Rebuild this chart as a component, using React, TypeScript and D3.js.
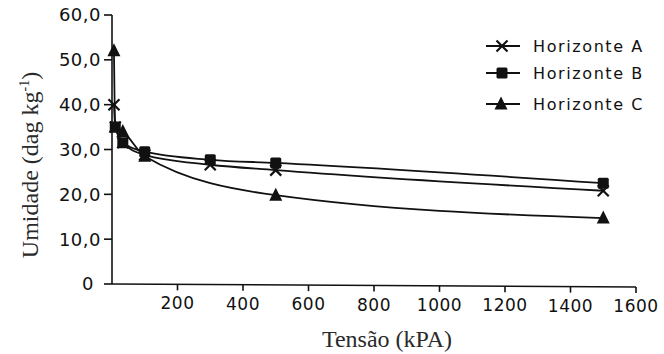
import React from "react";
import * as d3 from "d3";

const tensions = [6, 10, 33, 100, 300, 500, 1500];
const horizonteA = [40, 35, 31.5, 28.8, 26.6, 25.4, 20.8];
const tensionsB = [10, 33, 100, 300, 500, 1500];
const horizonteB = [35, 31.5, 29.5, 27.7, 27, 22.5];
const tensionsC = [6, 10, 33, 100, 500, 1500];
const horizonteC = [52, 35, 34, 28.5, 19.8, 14.7];

const xTicks = [200, 400, 600, 800, 1000, 1200, 1400, 1600];
const yTicks = [0, 10, 20, 30, 40, 50, 60];
const legendLabels = ["Horizonte A", "Horizonte B", "Horizonte C"];

const W = 664;
const H = 354;

export default function App() {
  const x = d3.scaleLinear().domain([0, 1600]).range([112, 636]);
  const y = d3.scaleLinear().domain([0, 60]).range([284, 15]);
  const line = d3
    .line<[number, number]>()
    .x((d) => x(d[0]))
    .y((d) => y(d[1]))
    .curve(d3.curveMonotoneX);

  const sA: [number, number][] = tensions.map((t, i) => [t, horizonteA[i]]);
  const sB: [number, number][] = tensionsB.map((t, i) => [t, horizonteB[i]]);
  const sC: [number, number][] = tensionsC.map((t, i) => [t, horizonteC[i]]);

  const ink = "#111";
  const tickFont = "'DejaVu Sans', sans-serif";

  const cross = (cx: number, cy: number, k: string) => (
    <g key={k} stroke={ink} strokeWidth={2.2}>
      <line x1={cx - 5.5} y1={cy - 5.5} x2={cx + 5.5} y2={cy + 5.5} />
      <line x1={cx - 5.5} y1={cy + 5.5} x2={cx + 5.5} y2={cy - 5.5} />
    </g>
  );
  const square = (cx: number, cy: number, k: string) => (
    <rect key={k} x={cx - 5.5} y={cy - 5.5} width={11} height={11} fill={ink} rx={1.5} />
  );
  const tri = (cx: number, cy: number, k: string) => (
    <path
      key={k}
      d={`M${cx},${cy - 7.5} L${cx + 6.5},${cy + 5.5} L${cx - 6.5},${cy + 5.5} Z`}
      fill={ink}
    />
  );

  const legendY = [46, 73, 104];

  return (
    <svg width={W} height={H} style={{ position: "absolute", left: 0, top: 0, background: "#fff" }}>
      {/* axes */}
      <line x1={112} y1={15} x2={112} y2={284} stroke={ink} strokeWidth={1.6} />
      <line x1={112} y1={284} x2={636} y2={287} stroke={ink} strokeWidth={1.6} />
      {yTicks.map((t) => (
        <g key={"yt" + t}>
          <line x1={104} x2={112} y1={y(t)} y2={y(t)} stroke={ink} strokeWidth={1.6} />
          <text
            x={t === 0 ? 94 : 101}
            y={y(t)}
            dy="0.36em"
            textAnchor="end"
            fontFamily={tickFont}
            fontSize={18}
            letterSpacing={0.5}
            fill={ink}
          >
            {t === 0 ? "0" : `${t},0`}
          </text>
        </g>
      ))}
      {xTicks.map((t) => {
        const yy = 284 + (3 * t) / 1600;
        return (
          <g key={"xt" + t}>
            <line x1={x(t)} x2={x(t)} y1={yy} y2={yy + 6} stroke={ink} strokeWidth={1.6} />
            <text
              x={x(t)}
              y={yy + 25}
              textAnchor="middle"
              fontFamily={tickFont}
              fontSize={17}
              letterSpacing={0.5}
              fill={ink}
            >
              {t}
            </text>
          </g>
        );
      })}
      {/* axis titles */}
      <text
        x={387}
        y={347}
        textAnchor="middle"
        fontFamily="'Liberation Serif', 'Times New Roman', serif"
        fontSize={24}
        fill="#2a2a2a"
      >
        Tensão (kPA)
      </text>
      <text
        transform="translate(38,165) rotate(-90)"
        textAnchor="middle"
        fontFamily="'Liberation Serif', 'Times New Roman', serif"
        fontSize={24}
        fill="#2a2a2a"
      >
        Umidade (dag kg<tspan dy={-9} fontSize={14}>-1</tspan>
        <tspan dy={9}>)</tspan>
      </text>

      {/* series */}
      <path d={line(sA) || ""} fill="none" stroke={ink} strokeWidth={1.8} />
      <path d={line(sB) || ""} fill="none" stroke={ink} strokeWidth={1.8} />
      <path d={line(sC) || ""} fill="none" stroke={ink} strokeWidth={1.8} />
      {sA.map((d, i) => cross(x(d[0]), y(d[1]), "a" + i))}
      {sB.map((d, i) => square(x(d[0]), y(d[1]), "b" + i))}
      {sC.map((d, i) => tri(x(d[0]), y(d[1]), "c" + i))}

      {/* legend */}
      {legendLabels.map((lab, i) => (
        <g key={lab}>
          <line x1={486} x2={520} y1={legendY[i]} y2={legendY[i]} stroke={ink} strokeWidth={1.8} />
          {i === 0 && cross(502, legendY[i], "la")}
          {i === 1 && square(502, legendY[i], "lb")}
          {i === 2 && tri(501, legendY[i], "lc")}
          <text
            x={533}
            y={legendY[i]}
            dy="0.36em"
            fontFamily={tickFont}
            fontSize={16}
            letterSpacing={1.6}
            fill={ink}
          >
            {lab}
          </text>
        </g>
      ))}
    </svg>
  );
}
